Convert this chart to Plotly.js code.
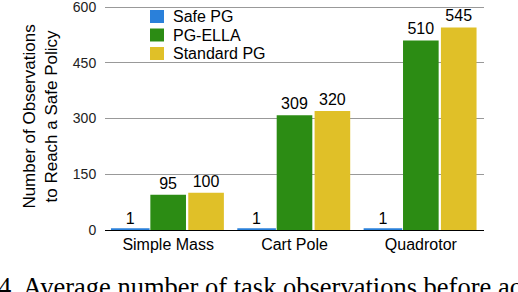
<!DOCTYPE html>
<html><head><meta charset="utf-8">
<script src="https://cdn.plot.ly/plotly-3.0.1.min.js"></script>
<style>html,body{margin:0;padding:0;background:#fff}#c{width:518px;height:292px}</style>
</head><body><div id="c"></div>
<script>
var categories = ["Simple Mass", "Cart Pole", "Quadrotor"];
var safePG = [1, 1, 1];
var pgElla = [95, 309, 510];
var standardPG = [100, 320, 545];
var seriesNames = ["Safe PG", "PG-ELLA", "Standard PG"];
var tickVals = [0, 150, 300, 450, 600];
var caption = "4  Average number of task observations before acq";

var colors = ["#2a80da", "#2c8c14", "#e0c028"];
var series = [safePG, pgElla, standardPG];
var data = series.map(function(vals, i){
  return {
    type: "bar", name: seriesNames[i], x: categories, y: vals,
    text: vals.map(String), textposition: "outside", cliponaxis: false,
    textfont: {family: "Liberation Sans, Arial, sans-serif", size: 16, color: "#000"},
    marker: {color: colors[i], line: {width: i === 0 ? 3 : 0, color: colors[i]}}
  };
});

var W = 518, H = 292, L = 105, R = 34, T = 3, B = 62;
var pw = W - L - R, ph = H - T - B;
var yTop = 600 * ph / 223; // keeps 600 at the reference's pixel row
function px(x){ return (x - L) / pw; }
function py(y){ return (H - B - y) / ph; }
var shapes = [], annotations = [];
seriesNames.forEach(function(n, i){
  var cy = 16.5 + i * 18.5;
  shapes.push({type: "rect", xref: "paper", yref: "paper",
    x0: px(150), x1: px(164), y0: py(cy + 6.5), y1: py(cy - 6.5),
    fillcolor: colors[i], line: {width: 0}});
  annotations.push({text: n, xref: "paper", yref: "paper", x: px(171), y: py(cy),
    xanchor: "left", yanchor: "middle", showarrow: false,
    font: {family: "Liberation Sans, Arial, sans-serif", size: 16, color: "#000"}});
});
annotations.push({text: caption, xref: "paper", yref: "paper", x: px(-4), y: py(270),
  xanchor: "left", yanchor: "top", showarrow: false,
  font: {family: "Liberation Serif, Times New Roman, serif", size: 26.5, color: "#000"}});

var layout = {
  width: W, height: H,
  margin: {l: L, r: R, t: T, b: B},
  paper_bgcolor: "#fff", plot_bgcolor: "#fff",
  barmode: "group", bargap: 0.1, bargroupgap: 0.06,
  font: {family: "Liberation Sans, Arial, sans-serif", color: "#000"},
  showlegend: false,
  xaxis: {tickfont: {size: 16, color: "#000"}, showline: true, linecolor: "#000", linewidth: 1,
    ticks: "", fixedrange: true},
  yaxis: {range: [0, yTop], tickvals: tickVals, tickfont: {size: 14, color: "#222"},
    ticklabeloverflow: "allow",
    gridcolor: "#999", gridwidth: 1, zeroline: false, ticks: "outside", ticklen: 5, tickcolor: "#fff",
    title: {text: "Number of Observations<br>to Reach a Safe Policy", font: {size: 17, color: "#000"}, standoff: 10}},
  shapes: shapes,
  annotations: annotations
};
Plotly.newPlot("c", data, layout, {staticPlot: true, displayModeBar: false});
</script></body></html>
